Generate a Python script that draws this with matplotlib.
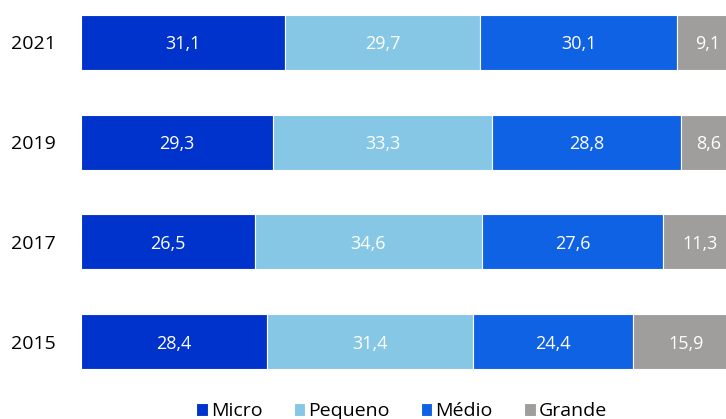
import numpy as np
import matplotlib.pyplot as plt

plt.rcParams['font.family'] = ['Open Sans', 'DejaVu Sans']

anos = ["2015", "2017", "2019", "2021"]
micro = [28.4, 26.5, 29.3, 31.1]
pequeno = [31.4, 34.6, 33.3, 29.7]
medio = [24.4, 27.6, 28.8, 30.1]
grande = [15.9, 11.3, 8.6, 9.1]

series = [("Micro", micro, "#0033cc"),
          ("Pequeno", pequeno, "#86c7e5"),
          ("Médio", medio, "#0f62e4"),
          ("Grande", grande, "#a09d9d")]

fig = plt.figure(figsize=(7.26, 4.19), dpi=100)
ax = fig.add_axes([81/726, 0.042, 1 - 81/726, 0.928])

y = np.arange(len(anos))
left = np.zeros(len(anos))
for nome, vals, cor in series:
    vals = np.array(vals)
    ax.barh(y, vals, left=left, height=0.55, color=cor, edgecolor="white",
            linewidth=0.8, label=nome)
    for yi, l, v in zip(y, left, vals):
        ax.text(l + v/2, yi, f"{v:.1f}".replace(".", ","), ha="center",
                va="center_baseline", color="white", fontsize=13)
    left += vals

# the original is cut off at the right edge
ax.set_xlim(0, 98.3)
ax.set_ylim(-0.6, 3.3)
ax.set_yticks(y)
ax.set_yticklabels(anos, fontsize=14)
ax.tick_params(axis="y", length=0, pad=18)
ax.set_xticks([])
for s in ax.spines.values():
    s.set_visible(False)

fig.legend(loc="lower center", bbox_to_anchor=(0.553, -0.045), ncol=4,
           frameon=False, fontsize=14, handlelength=0.6, handleheight=0.6,
           handletextpad=0.15, columnspacing=1.6)

fig.savefig("out.png", dpi=100)
